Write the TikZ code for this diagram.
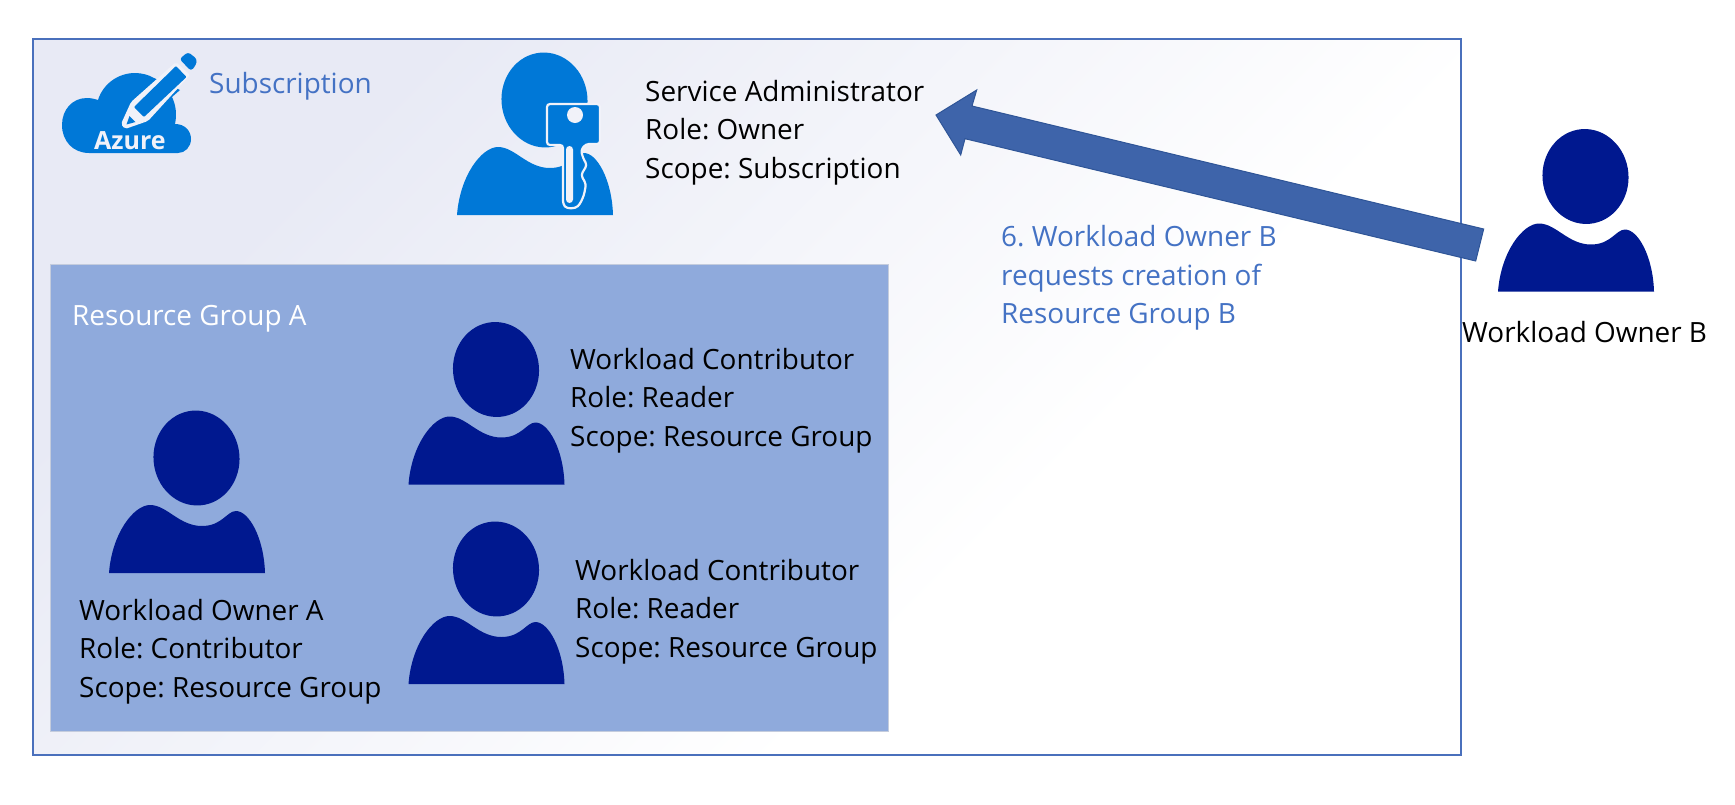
\documentclass[tikz,border=0pt]{standalone}
\usepackage{fontspec}
\setmainfont{Open Sans}
\frenchspacing
\newcommand\pxfont{\fontsize{27.9}{38.6}\selectfont}
\newcommand\blk[1]{\begin{tabular}[t]{@{}l@{}}#1\end{tabular}}
\definecolor{boxline}{HTML}{4A70BC}
\definecolor{bluetext}{HTML}{4472C4}
\definecolor{rgfill}{HTML}{8FAADC}
\definecolor{rgline}{HTML}{C4CCDD}
\definecolor{navyp}{HTML}{00188F}
\definecolor{azurep}{HTML}{0078D7}
\definecolor{arrowfill}{HTML}{3E64AA}
\definecolor{arrowline}{HTML}{2F5597}
\definecolor{gaptone}{HTML}{F1F2F9}
\definecolor{gradtop}{HTML}{E8EAF5}
\pgfdeclareverticalshading{subgrad}{100bp}{color(0bp)=(white); color(37bp)=(white); color(72bp)=(gradtop); color(100bp)=(gradtop)}
\tikzset{
  x=1pt,y=-1pt,
  txt/.style={anchor=base west,inner sep=0pt,font=\pxfont,text=black},
  bluetxt/.style={txt,text=bluetext},
  pics/person/.style={code={
    \fill[#1] (87.5,-115) ellipse [x radius=43,y radius=47.5,rotate=5];
    \fill[#1] (0,0) .. controls (3,-40) and (25,-68) .. (41,-68)
      .. controls (58,-68) and (70,-47) .. (93,-47)
      .. controls (113,-47) and (118,-62) .. (127,-62)
      .. controls (140,-62) and (155,-35) .. (156,0) -- cycle;
  }}
}
\begin{document}
\begin{tikzpicture}
\useasboundingbox (0,0) rectangle (1735,804);
% subscription frame
\shade[shading=subgrad,shading angle=45] (33,39) rectangle (1461,755);
\node[draw=boxline,line width=2pt,fill=none,inner sep=0pt,minimum width=1428pt,minimum height=716pt] (frame) at (747,397) {};
% resource group
\node[draw=rgline,line width=1pt,fill=rgfill,inner sep=0pt,minimum width=838pt,minimum height=467pt] (rg) at (469,498) {};
\node[txt,text=white] (rgl) at (72,325.5) {Resource Group A};
% azure cloud
\fill[azurep] (89,153) .. controls (73,153) and (62,141) .. (62,125)
  .. controls (62,110) and (72,98) .. (87,98) .. controls (91,98) and (95,99) .. (98,100)
  .. controls (103,84) and (118,73) .. (135,73) .. controls (142,73) and (149,75) .. (154,78)
  -- (180,90) -- (172,97) .. controls (176,105) and (177,115) .. (175,124)
  .. controls (185,124) and (191,131) .. (191,139) .. controls (191,147) and (185,153) .. (178,153) -- cycle;
\fill[gaptone,rounded corners=2pt] (131,102) -- (176,62) -- (190,75) -- (148,121) -- (125,129) -- (121,124) -- cycle;
\fill[azurep,rounded corners=1pt] (134,107) -- (176,66) -- (186.5,77) -- (144,117) -- cycle;
\fill[azurep] (126.5,124.5) -- (129.5,116) -- (135.5,122) -- cycle;
\fill[azurep,rounded corners=3pt] (179.5,59) -- (188,52) -- (197,59) -- (196,65) -- (191,71) -- cycle;
\node[anchor=base west,inner sep=0pt,text=gaptone,font=\fontsize{25}{25}\bfseries\selectfont] (az) at (94,149) {Azure};
\node[bluetxt] (sub) at (209,93) {Subscription};
% service administrator
\pic (admin) at (457,215) {person=azurep};
\filldraw[fill=azurep,draw=gaptone,line width=2.2pt,rounded corners=3pt]
  (547,104) -- (600,104) -- (600,144) -- (586,144) -- (581,150) -- (583,158) -- (587,165) -- (581,175)
  -- (586,184) -- (584,195) -- (580,204) .. controls (575,209) and (567,209) .. (563,204)
  -- (563,145) -- (547,145) -- cycle;
\fill[gaptone] (575,115) circle (8);
\fill[gaptone,rounded corners=3.5pt] (566,146) rectangle (573,203);
\node[txt] (adm) at (645,101) {\blk{Service Administrator\\Role: Owner\\Scope: Subscription}};
% people in the resource group
\pic (ownerA) at (109,573) {person=navyp};
\node[txt] (ownA) at (79,620) {\blk{Workload Owner A\\Role: Contributor\\Scope: Resource Group}};
\pic (contribA) at (408.5,484.5) {person=navyp};
\node[txt] (conA) at (570,369) {\blk{Workload Contributor\\Role: Reader\\Scope: Resource Group}};
\pic (contribB) at (408.5,684) {person=navyp};
\node[txt] (conB) at (575,580) {\blk{Workload Contributor\\Role: Reader\\Scope: Resource Group}};
% workload owner B
\pic (ownerB) at (1498,291.5) {person=navyp};
\node[txt] (ownB) at (1462,342) {Workload Owner B};
% request arrow
\filldraw[fill=arrowfill,draw=arrowline,line width=1pt,line join=miter]
  (936,115) -- (976.7,90) -- (972,106) -- (1483.7,229) -- (1475.7,261) -- (965,138.7) -- (960.7,155) -- cycle;
\node[bluetxt] (req) at (1001,246.5) {\blk{6. Workload Owner B\\requests creation of\\Resource Group B}};
\end{tikzpicture}
\end{document}
